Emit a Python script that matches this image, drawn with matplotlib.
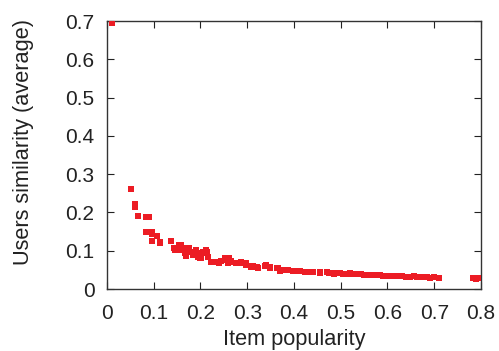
import matplotlib
matplotlib.use('Agg')
import matplotlib.pyplot as plt

plt.rcParams['font.family'] = ['Liberation Sans', 'DejaVu Sans']

# item popularity vs average user similarity
popularity = [0.011,
              0.052, 0.059, 0.059, 0.067, 0.083, 0.090, 0.083, 0.097, 0.097,
              0.106, 0.097, 0.113, 0.114, 0.136, 0.137, 0.144, 0.146, 0.153,
              0.155, 0.158, 0.166, 0.168, 0.175, 0.176, 0.183, 0.190, 0.194,
              0.198, 0.201, 0.212, 0.214, 0.216, 0.223, 0.227, 0.237, 0.240,
              0.252, 0.258, 0.259, 0.262, 0.266, 0.277, 0.287, 0.298, 0.298,
              0.309, 0.312, 0.323, 0.341, 0.348, 0.366, 0.370, 0.376, 0.388,
              0.406, 0.424, 0.438, 0.456, 0.474, 0.481, 0.485, 0.499, 0.513,
              0.520, 0.531, 0.535, 0.549, 0.567, 0.585, 0.590, 0.603, 0.621,
              0.639, 0.640, 0.657, 0.671, 0.685, 0.700, 0.710, 0.782, 0.790,
              0.793,
              0.158, 0.169, 0.180, 0.187, 0.198, 0.205, 0.212, 0.223, 0.233,
              0.244, 0.255, 0.266, 0.277, 0.287, 0.298, 0.309, 0.320, 0.338,
              0.348, 0.363, 0.370, 0.384, 0.398, 0.413, 0.427, 0.441, 0.456,
              0.470, 0.488, 0.505, 0.525, 0.543, 0.560, 0.578, 0.596, 0.612,
              0.630, 0.648, 0.664, 0.678, 0.692]
similarity = [0.694,
              0.261, 0.221, 0.215, 0.190, 0.189, 0.187, 0.150, 0.150, 0.144,
              0.138, 0.126, 0.122, 0.121, 0.126, 0.126, 0.106, 0.102, 0.112,
              0.115, 0.102, 0.095, 0.086, 0.106, 0.106, 0.089, 0.102, 0.084,
              0.080, 0.080, 0.095, 0.097, 0.084, 0.071, 0.070, 0.071, 0.067,
              0.080, 0.067, 0.067, 0.080, 0.074, 0.067, 0.071, 0.063, 0.067,
              0.058, 0.060, 0.054, 0.063, 0.058, 0.054, 0.048, 0.050, 0.050,
              0.048, 0.045, 0.045, 0.043, 0.041, 0.042, 0.039, 0.042, 0.039,
              0.041, 0.039, 0.038, 0.037, 0.037, 0.036, 0.034, 0.035, 0.033,
              0.032, 0.032, 0.033, 0.031, 0.031, 0.031, 0.028, 0.028, 0.026,
              0.028,
              0.115, 0.106, 0.097, 0.093, 0.093, 0.097, 0.102, 0.071, 0.071,
              0.074, 0.076, 0.071, 0.069, 0.067, 0.065, 0.060, 0.058, 0.060,
              0.054, 0.054, 0.050, 0.050, 0.048, 0.047, 0.045, 0.045, 0.044,
              0.044, 0.041, 0.040, 0.039, 0.038, 0.037, 0.036, 0.035, 0.034,
              0.033, 0.032, 0.032, 0.031, 0.030]

xticks = [0, 0.1, 0.2, 0.3, 0.4, 0.5, 0.6, 0.7, 0.8]
yticks = [0, 0.1, 0.2, 0.3, 0.4, 0.5, 0.6, 0.7]

fig = plt.figure(figsize=(4.99, 3.51), dpi=100)
ax = fig.add_axes([0.2144, 0.1766, 0.7495, 0.7634])

ax.scatter(popularity, similarity, marker='s', s=13, color='#ec1c24',
           linewidths=0, zorder=3)

ax.set_xlim(0, 0.8)
ax.set_ylim(0, 0.7)
ax.set_xticks(xticks)
ax.set_yticks(yticks)
ax.set_xticklabels([f'{t:g}' for t in xticks])
ax.set_yticklabels([f'{t:g}' for t in yticks])
ax.tick_params(direction='in', top=True, right=True, length=5, width=0.8,
               labelsize=15, colors='#222222')
ax.tick_params(axis='x', pad=11)
ax.tick_params(axis='y', pad=9)
for s in ax.spines.values():
    s.set_color('#333333')
    s.set_linewidth(1.0)

# reference crops the descenders at the bottom edge; keep it just inside
ax.set_xlabel('Item popularity', fontsize=15.7, labelpad=4, color='#222222')
ax.set_ylabel('Users similarity (average)', fontsize=15.7, color='#222222')
ax.yaxis.set_label_coords(-0.195, 0.55)

fig.savefig('out.png', dpi=100)
plt.close()
